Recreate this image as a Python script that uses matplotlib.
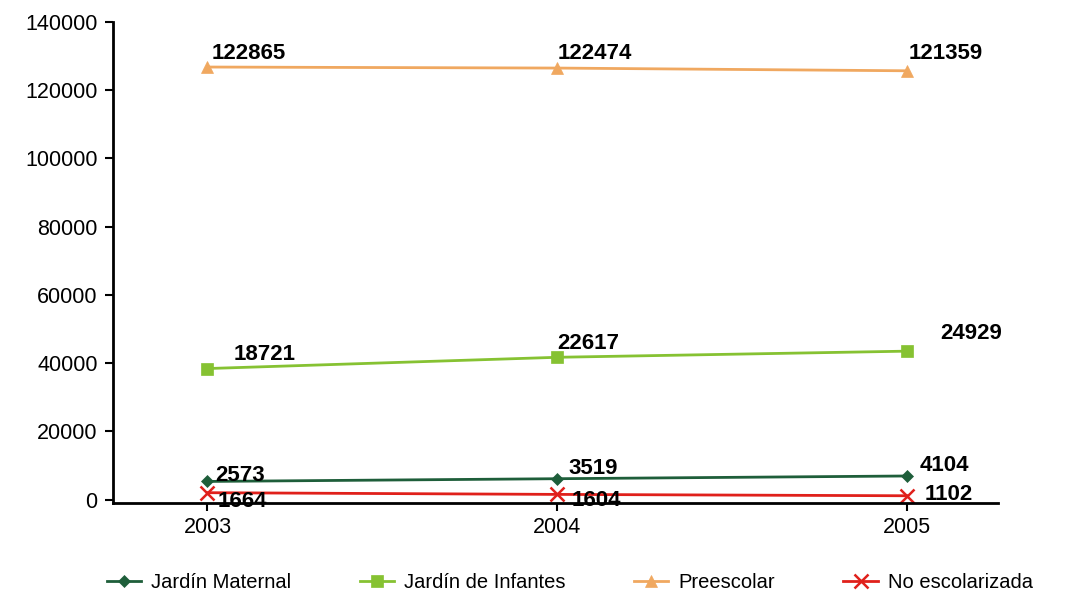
import numpy as np
import matplotlib
matplotlib.use("Agg")
import matplotlib.pyplot as plt

plt.rcParams["font.family"] = ["Liberation Sans", "DejaVu Sans"]

# Datos (posición dibujada y etiqueta mostrada)
anios = ["2003", "2004", "2005"]
maternal = [5300, 6100, 6900]
infantes = [38400, 41700, 43500]
preescolar = [126800, 126500, 125700]
no_escol = [2000, 1500, 1100]

etq_maternal = ["2573", "3519", "4104"]
etq_infantes = ["18721", "22617", "24929"]
etq_preescolar = ["122865", "122474", "121359"]
etq_no_escol = ["1664", "1604", "1102"]

series = [
    ("Jardín Maternal", maternal, etq_maternal, "#1E5E3A", "D", 6,
     [(8, 6), (11, 10), (13, 10)]),
    ("Jardín de Infantes", infantes, etq_infantes, "#86C232", "s", 8,
     [(26, 14), (0, 14), (33, 18)]),
    ("Preescolar", preescolar, etq_preescolar, "#F0A860", "^", 8,
     [(4, 14), (0, 15), (2, 17)]),
    ("No escolarizada", no_escol, etq_no_escol, "#E0201B", "x", 10,
     [(10, -9), (14, -6), (18, 1)]),
]

fig = plt.figure(figsize=(10.69, 5.95), dpi=100)
ax = fig.add_axes([0.1057, 0.1546, 0.8279, 0.8084])
x = np.arange(len(anios))

handles = []
for nombre, vals, etqs, col, mk, ms, offs in series:
    h, = ax.plot(x, vals, color=col, lw=2, marker=mk, ms=ms,
                 mew=1.8 if mk == "x" else 0.5, label=nombre)
    handles.append(h)
    for xi, v, t, (dx, dy) in zip(x, vals, etqs, offs):
        ax.annotate(t, (xi, v), xytext=(dx, dy), textcoords="offset pixels",
                    ha="left", va="center", fontsize=16, fontweight="bold",
                    color="black")

ax.set_xlim(-0.27, 2.26)
ax.set_ylim(-1025, 140000)
ax.set_xticks(x)
ax.set_xticklabels(anios)
ax.set_yticks(np.arange(0, 140001, 20000))
ax.tick_params(axis="both", labelsize=15.5, direction="out", length=6,
               width=1.5, colors="black")
ax.tick_params(axis="x", pad=4)
ax.tick_params(axis="y", pad=5)
for s in ["top", "right"]:
    ax.spines[s].set_visible(False)
for s in ["left", "bottom"]:
    ax.spines[s].set_linewidth(2)

fig.legend(handles=handles, loc="lower left", bbox_to_anchor=(0.1, 0.005),
           ncol=4, frameon=False, fontsize=14.5, handlelength=1.7,
           handletextpad=0.5, columnspacing=3.4, borderpad=0,
           borderaxespad=0)

fig.savefig("out.png", dpi=100)
